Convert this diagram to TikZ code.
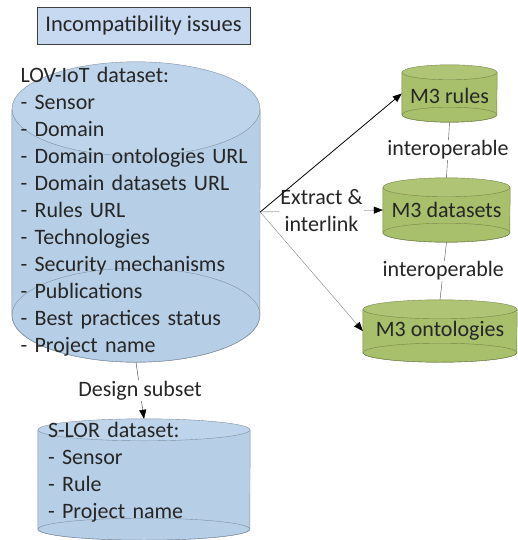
\documentclass[tikz,border=0pt]{standalone}
\usepackage{fontspec}
\setmainfont{Carlito}
\usetikzlibrary{calc,arrows.meta,backgrounds}

\definecolor{dbblue}{HTML}{B6CEE6}
\definecolor{dbbluetop}{HTML}{BED4EA}
\definecolor{dbgreen}{HTML}{A8BF6B}
\definecolor{dbgreentop}{HTML}{AFC475}
\definecolor{boxblue}{HTML}{C6D9F1}

% cylinder behind a node: node, x radius, y radius, body colour, top colour
\newcommand{\dbcyl}[5]{%
  \path[draw=#4!70!black, fill=#4]
    ($(#1.north west)+(0pt,-#3)$) -- ($(#1.south west)+(0pt,#3)$)
    arc[start angle=180, end angle=360, x radius=#2, y radius=#3]
    -- ($(#1.north east)+(0pt,-#3)$);
  \draw[#4!70!black] ($(#1.south)+(0pt,#3)$) ellipse[x radius=#2, y radius=#3];
  \path[draw=#4!70!black, fill=#5] ($(#1.north)+(0pt,-#3)$) ellipse[x radius=#2, y radius=#3];
}

\begin{document}
\begin{tikzpicture}[x=1pt, y=-1pt, font=\fontsize{22}{27}\selectfont, text=black!85]
\useasboundingbox (0,0) rectangle (517,540);

\node[draw=black!75, fill=boxblue, minimum width=213pt, minimum height=37pt, inner sep=0pt,
      font=\fontsize{22.5}{27}\selectfont] (issues) at (143.5,25.5) {Incompatibility issues};

\begin{scope}[every node/.style={align=left, inner ysep=0pt}]
    \node[text width=231pt, inner xsep=8.5pt, minimum height=300pt] (lov) at (136,212)
      {LOV-IoT dataset:\\- Sensor\\- Domain\\- Domain ontologies URL\\- Domain datasets URL\\- Rules URL\\- Technologies\\- Security mechanisms\\- Publications\\- Best practices status\\- Project name};
    \node[text width=192pt, inner xsep=10pt, minimum height=121pt, text height=1pt] (slor) at (144,479.5)
      {S-LOR dataset:\\- Sensor\\- Rule\\- Project name};
\end{scope}

\begin{scope}[every node/.style={inner sep=0pt}]
    \node[minimum width=95pt, minimum height=57pt, text height=20pt] (rules) at (449.5,93.5) {M3 rules};
    \node[minimum width=127pt, minimum height=64pt] (datasets) at (446.5,210) {M3 datasets};
    \node[minimum width=154pt, minimum height=62pt] (ontologies) at (440,331) {M3 ontologies};
\end{scope}

\begin{scope}[on background layer]
    \dbcyl{lov}{124pt}{47pt}{dbblue}{dbbluetop}
    \dbcyl{slor}{106pt}{11pt}{dbblue}{dbbluetop}
    \dbcyl{rules}{47.5pt}{7.5pt}{dbgreen}{dbgreentop}
    \dbcyl{datasets}{63.5pt}{9.5pt}{dbgreen}{dbgreentop}
    \dbcyl{ontologies}{77pt}{9.5pt}{dbgreen}{dbgreentop}
\end{scope}

\begin{scope}[>={Triangle[length=9pt,width=7pt,color=black]}, every node/.style={fill=white, inner sep=1pt}]
    \path [->] (lov.south) edge[draw=black!80] node {Design subset} (slor.north);
    \path [->] (lov.east) edge[draw=gray!70!black] node[align=center] {Extract \&\\interlink} (datasets.west);
    \path [->] (lov.east) edge[draw=black, line width=0.8pt] (rules.west);
    \path [->] (lov.east) edge[draw=gray, thin] (ontologies.west);

    \path (rules.south) edge[draw=black!70, thin] node {interoperable} (datasets.north);
    \path (datasets.south) edge[draw=black!70, thin] node {interoperable} (ontologies.north);
\end{scope}
\end{tikzpicture}
\end{document}
